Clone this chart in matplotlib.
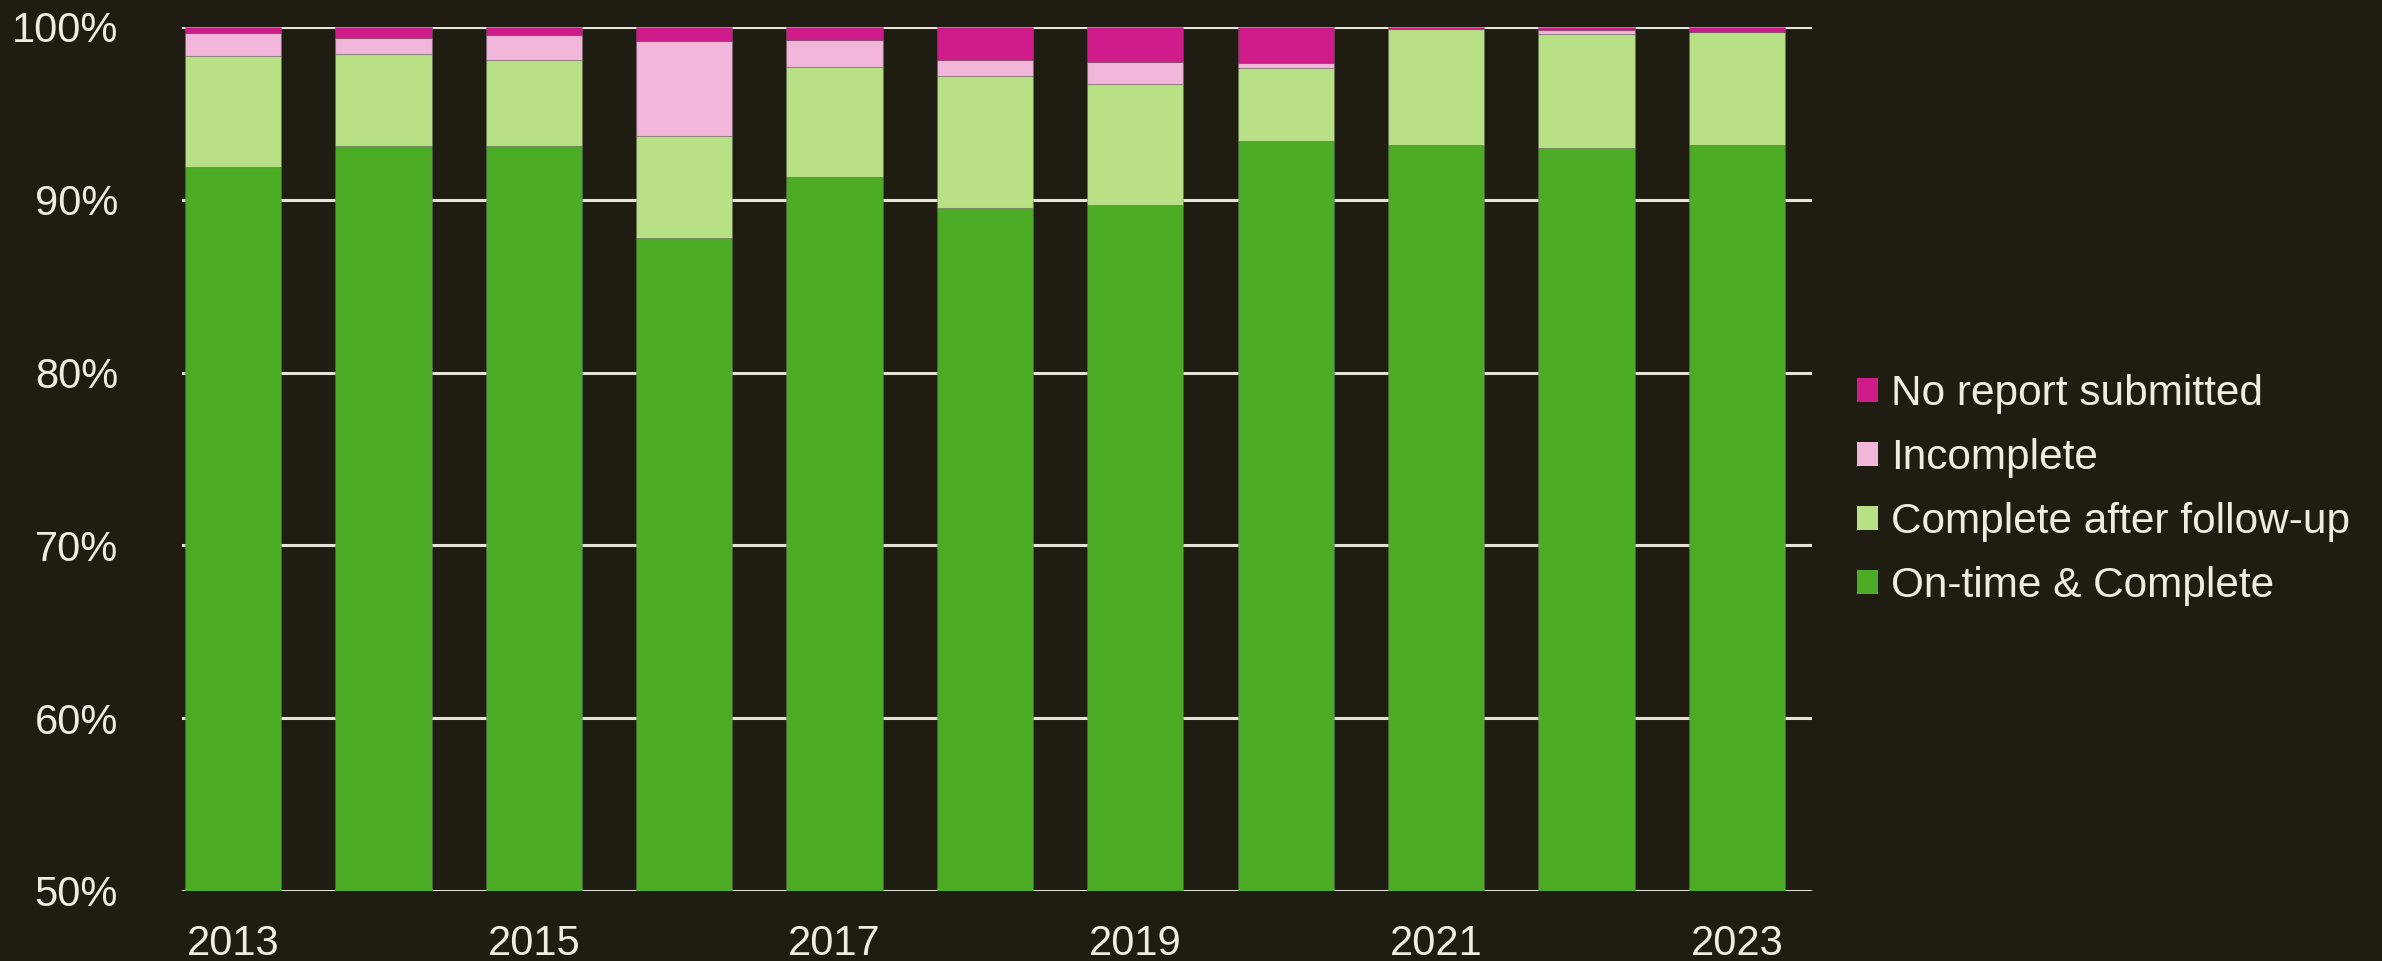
import numpy as np
import matplotlib
matplotlib.use("Agg")
import matplotlib.pyplot as plt
from matplotlib.ticker import FuncFormatter

years = list(range(2013, 2024))
on_time = [91.9, 93.1, 93.1, 87.8, 91.3, 89.5, 89.7, 93.4, 93.2, 93.0, 93.2]
after_followup = [6.45, 5.35, 5.0, 5.9, 6.4, 7.65, 7.0, 4.2, 6.68, 6.6, 6.53]
incomplete = [1.3, 0.9, 1.45, 5.5, 1.52, 0.95, 1.3, 0.32, 0.0, 0.25, 0.0]
no_report = [0.35, 0.65, 0.45, 0.8, 0.78, 1.9, 2.0, 2.08, 0.12, 0.15, 0.27]

series = [
    ("On-time & Complete", on_time, "#4dac26"),
    ("Complete after follow-up", after_followup, "#b8e186"),
    ("Incomplete", incomplete, "#f1b6da"),
    ("No report submitted", no_report, "#d01c8b"),
]

BG = "#1f1c12"
FG = "#efece0"
plt.rcParams["font.family"] = ["Liberation Sans", "DejaVu Sans"]

fig = plt.figure(figsize=(23.82, 9.61), dpi=100, facecolor=BG)
ax = fig.add_axes([182 / 2382, 1 - 891 / 961, 1630 / 2382, 864 / 961])
ax.set_facecolor(BG)

x = np.arange(len(years))
bottom = np.zeros(len(years))
handles = []
for label, vals, col in series:
    vals = np.array(vals)
    b = ax.bar(x, vals, width=0.64, bottom=bottom, color=col, label=label,
               edgecolor=(0.4, 0.4, 0.4, 0.35), linewidth=0.8, zorder=3)
    handles.append(b)
    bottom += vals

ax.set_ylim(50, 100)
ax.set_xlim(-0.34, 10.5)
ax.set_yticks(np.arange(50, 101, 10))
ax.yaxis.set_major_formatter(FuncFormatter(lambda v, p: f"{v:.0f}%"))
ax.set_xticks(x[::2])
ax.set_xticklabels([str(y) for y in years[::2]])
ax.grid(axis="y", color="#e6e4da", linewidth=2.2, zorder=0)
ax.tick_params(axis="both", length=0, colors=FG, labelsize=30)
ax.tick_params(axis="y", pad=46)
ax.tick_params(axis="x", pad=24)
for s in ax.spines.values():
    s.set_visible(False)

leg = fig.legend(handles[::-1], [s[0] for s in series][::-1], loc="center left",
                 bbox_to_anchor=(1857 / 2382, 1 - 490 / 961), frameon=False,
                 fontsize=30.5, handlelength=0.5, handleheight=0.5,
                 handletextpad=0.3, labelspacing=0.57, borderpad=0, borderaxespad=0)
for t in leg.get_texts():
    t.set_color(FG)
for h in leg.legend_handles:
    h.set_edgecolor("none")

fig.savefig("out.png", dpi=100, facecolor=BG)
